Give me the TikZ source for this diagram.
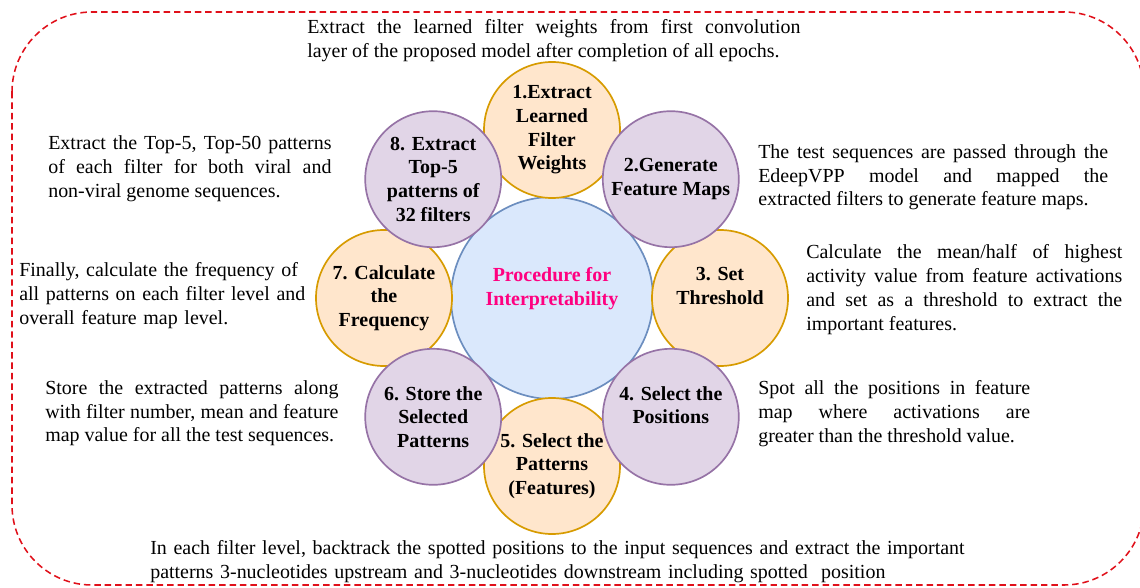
\documentclass[tikz,border=0pt]{standalone}
\usepackage{fontspec}
\setmainfont{Liberation Serif}
\definecolor{ofill}{HTML}{FFE6CC}
\definecolor{ostroke}{HTML}{D79B00}
\definecolor{pfill}{HTML}{E1D5E7}
\definecolor{pstroke}{HTML}{9673A6}
\definecolor{bfill}{HTML}{DAE8FC}
\definecolor{bstroke}{HTML}{6C8EBF}
\definecolor{procpink}{HTML}{FF0080}
\definecolor{framered}{HTML}{E0101A}
\newcommand{\descfont}{\fontsize{14.2}{17}\selectfont}
\newcommand{\stepfont}{\fontsize{14.2}{16.8}\selectfont\bfseries}
\tolerance=10000
\hbadness=10000

\begin{document}
\begin{tikzpicture}[
  orng/.style={circle, draw=ostroke, fill=ofill, line width=1.2pt,
               minimum size=3.4cm, inner sep=0pt, align=center, font=\stepfont},
  purp/.style={orng, draw=pstroke, fill=pfill},
  desc/.style={anchor=north west, inner sep=0pt, text width=#1,
               align=justify, font=\descfont},
  frame/.style={draw=framered, line width=1.1pt,
                dash pattern=on 4.6pt off 2.8pt, rounded corners=2cm},
]
\useasboundingbox (0,0) rectangle (28.5,-14.7);

% ---- dashed frame ----
\draw[frame] (0.3,-0.3) rectangle (28.6,-14.625);

% ---- centre ----
\node[orng, draw=bstroke, fill=bfill, minimum size=5.05cm, text=procpink]
  (ctr) at (13.8,-7.45) {Procedure for\\Interpretability\\\mbox{}};

% ---- ring of steps: orange ones first, purple ones on top ----
\node[orng] (weights)  at (13.8,-3.25)  {1.Extract\\Learned\\Filter\\Weights};
\node[orng] (thresh)   at (18.0,-7.45)  {3. Set\\Threshold\\\mbox{}};
\node[orng] (patterns) at (13.8,-11.65) {5. Select the\\Patterns\\(Features)};
\node[orng] (freq)     at (9.6,-7.45)   {7. Calculate\\the\\Frequency};

\node[purp] (fmaps)     at (16.77,-4.48)  {2.Generate\\Feature Maps};
\node[purp] (positions) at (16.77,-10.42) {4. Select the\\Positions\\\mbox{}};
\node[purp] (store)     at (10.83,-10.42) {6. Store the\\Selected\\Patterns};
\node[purp] (top5)      at (10.83,-4.48)  {8. Extract\\Top-5\\patterns of\\32 filters};

% ---- descriptions ----
\node[desc=12.33cm] (dweights) at (7.675,-0.48)
  {Extract the learned filter weights from first convolution\linebreak
   layer of the proposed model after completion of all epochs.};
\node[desc=8.75cm] (dfmaps) at (18.95,-3.6)
  {The test sequences are passed through the\linebreak
   EdeepVPP model and mapped the\linebreak
   extracted filters to generate feature maps.};
\node[desc=7.9cm] (dthresh) at (20.15,-6.1)
  {Calculate the mean/half of highest\linebreak
   activity value from feature activations\linebreak
   and set as a threshold to extract the\linebreak
   important features.};
\node[desc=6.8cm] (dpos) at (18.95,-9.5)
  {Spot all the positions in feature\linebreak
   map where activations are\linebreak
   greater than the threshold value.};
\node[desc=21cm, align=left] (dpatterns) at (3.75,-13.5)
  {In each filter level, backtrack the spotted positions to the input sequences and extract the important\\
   patterns 3-nucleotides upstream and 3-nucleotides downstream including spotted~ position};
\node[desc=7.33cm] (dstore) at (1.125,-9.5)
  {Store the extracted patterns along\linebreak
   with filter number, mean and feature\linebreak
   map value for all the test sequences.};
\node[desc=7.5cm, align=left] (dfreq) at (0.475,-6.55)
  {Finally, calculate the frequency of\\
   all patterns on each filter level and\\
   overall feature map level.};
\node[desc=7.08cm] (dtop5) at (1.2,-3.38)
  {Extract the Top-5, Top-50 patterns\linebreak
   of each filter for both viral and\linebreak
   non-viral genome sequences.};

\end{tikzpicture}
\end{document}
